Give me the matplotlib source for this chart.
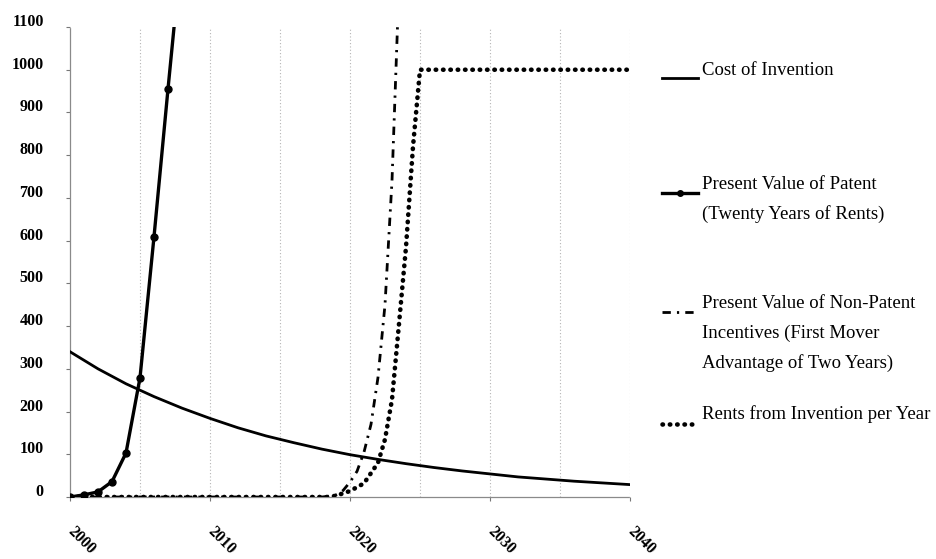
import matplotlib
matplotlib.use("Agg")
import matplotlib.pyplot as plt
from matplotlib.lines import Line2D
from matplotlib.transforms import ScaledTranslation

plt.rcParams["font.family"] = ["Liberation Serif", "DejaVu Serif"]

# values
cost_years = [2000, 2002, 2004, 2006, 2008, 2010, 2012, 2014, 2016, 2018, 2020,
              2022, 2024, 2026, 2028, 2030, 2032, 2034, 2036, 2038, 2040]
cost_vals = [340, 300, 265, 235, 208, 184, 162, 143, 127, 112, 99,
             88, 78, 69, 61, 54, 47, 42, 37, 33, 29]

patent_years = [2000, 2001, 2002, 2003, 2004, 2005, 2006, 2007, 2008]
patent_vals = [0, 5, 12, 36, 103, 279, 609, 955, 1290]

nonpat_years = [2000, 2018, 2018.5, 2019, 2019.5, 2020, 2020.5, 2021, 2021.5,
                2022, 2022.5, 2023, 2023.5]
nonpat_vals = [0, 0, 2, 5, 15, 35, 60, 105, 170, 280, 450, 740, 1200]

rents_years = [2000, 2018.5, 2019, 2020, 2021, 2022, 2022.5, 2023, 2023.5,
               2024, 2024.5, 2025, 2030, 2035, 2040]
rents_vals = [0, 0, 3, 14, 32, 80, 135, 228, 405, 585, 820, 1000, 1000, 1000, 1000]

legend_lines = [
    ["Cost of Invention"],
    ["Present Value of Patent", "(Twenty Years of Rents)"],
    ["Present Value of Non-Patent", "Incentives (First Mover", "Advantage of Two Years)"],
    ["Rents from Invention per Year"],
]

W, H = 936, 559
fig = plt.figure(figsize=(W / 100, H / 100), dpi=100)
ax = fig.add_axes([70 / W, 1 - 497 / H, 560 / W, 470 / H])

styles = [
    dict(color="black", lw=2.0, ls="-"),
    dict(color="black", lw=2.4, ls="-", marker="o", ms=5),
    dict(color="black", lw=2.0, ls=(0, (3, 2.2, 0.8, 2.2))),
    dict(color="black", lw=3.3, ls=(0, (0.1, 1.5)), dash_capstyle="round"),
]

ax.plot(cost_years, cost_vals, **styles[0], zorder=3)
ax.plot(nonpat_years, nonpat_vals, **styles[2], zorder=3)
ax.plot(rents_years, rents_vals, **styles[3], zorder=3)
ax.plot(patent_years, patent_vals, **styles[1], zorder=4)

ax.set_xlim(2000, 2040)
ax.set_ylim(0, 1100)
ax.set_xticks(range(2000, 2041, 10))
ax.set_yticks(range(0, 1101, 100))
for x in range(2005, 2041, 5):
    ax.axvline(x, color="#b5b5b5", lw=0.8, ls=(0, (1, 2)), zorder=1)

for s in ["top", "right"]:
    ax.spines[s].set_visible(False)
for s in ["left", "bottom"]:
    ax.spines[s].set_color("#8a8a8a")
    ax.spines[s].set_linestyle((0, (1, 1)))
    ax.spines[s].set_linewidth(0.9)

ax.tick_params(axis="y", length=3, color="#777777", pad=16, labelsize=11.5)
ax.tick_params(axis="x", length=3, color="#777777", pad=20, labelsize=11.5)
for lab in ax.get_yticklabels():
    lab.set_fontweight("bold")
    lab.set_transform(lab.get_transform() + ScaledTranslation(0, 7 / 100, fig.dpi_scale_trans))
for lab in ax.get_xticklabels():
    lab.set_fontweight("bold")
    lab.set_rotation(-45)
    lab.set_rotation_mode("anchor")
    lab.set_ha("left")
    lab.set_va("center")

# legend drawn by hand on the right
text_base = [[75], [189, 219], [308, 338, 368], [419]]
handle_y = [78, 193, 312, 424]
for i, lines in enumerate(legend_lines):
    hy = 1 - handle_y[i] / H
    st = dict(styles[i])
    if "marker" in st:
        st["ms"] = 4
        fig.add_artist(Line2D([662 / W, 680 / W, 698 / W], [hy, hy, hy],
                              markevery=[1], **st))
    else:
        fig.add_artist(Line2D([662 / W, 698 / W], [hy, hy], **st))
    for j, t in enumerate(lines):
        fig.text(702 / W, 1 - text_base[i][j] / H, t, fontsize=13.5, va="baseline", ha="left")

fig.savefig("out.png", dpi=100)
